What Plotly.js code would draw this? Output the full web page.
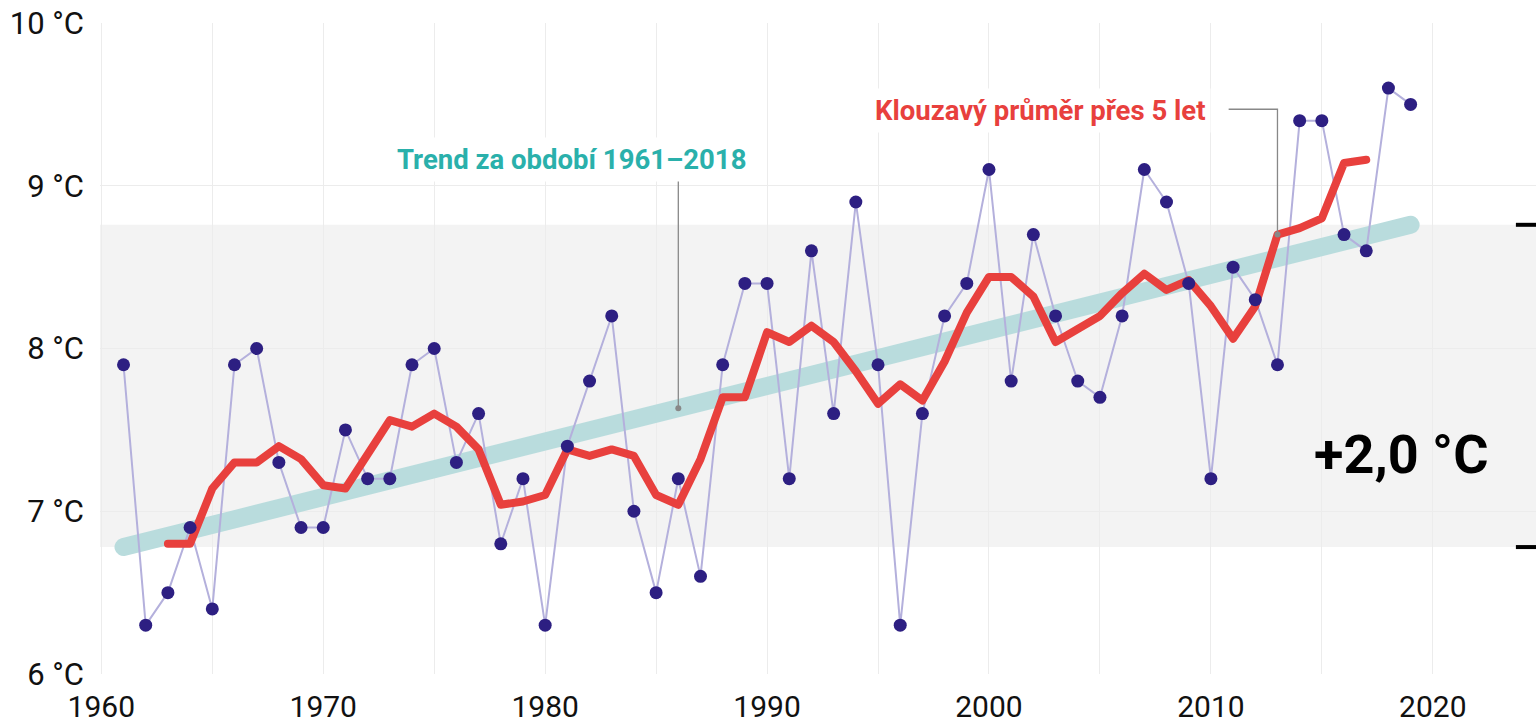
<!DOCTYPE html>
<html>
<head>
<meta charset="utf-8">
<script src="https://cdn.plot.ly/plotly-3.0.1.min.js"></script>
<style>
html,body{margin:0;padding:0;background:#fff;}
#chart{width:1536px;height:727px;}
</style>
</head>
<body>
<div id="chart"></div>
<script>
// Annual mean temperature
const years = [1961,1962,1963,1964,1965,1966,1967,1968,1969,1970,1971,1972,1973,1974,1975,1976,1977,1978,1979,1980,1981,1982,1983,1984,1985,1986,1987,1988,1989,1990,1991,1992,1993,1994,1995,1996,1997,1998,1999,2000,2001,2002,2003,2004,2005,2006,2007,2008,2009,2010,2011,2012,2013,2014,2015,2016,2017,2018,2019];
const annualTemp = [7.9,6.3,6.5,6.9,6.4,7.9,8.0,7.3,6.9,6.9,7.5,7.2,7.2,7.9,8.0,7.3,7.6,6.8,7.2,6.3,7.4,7.8,8.2,7.0,6.5,7.2,6.6,7.9,8.4,8.4,7.2,8.6,7.6,8.9,7.9,6.3,7.6,8.2,8.4,9.1,7.8,8.7,8.2,7.8,7.7,8.2,9.1,8.9,8.4,7.2,8.5,8.3,7.9,9.4,9.4,8.7,8.6,9.6,9.5];

// 5-year moving average
const maYears = [1963,1964,1965,1966,1967,1968,1969,1970,1971,1972,1973,1974,1975,1976,1977,1978,1979,1980,1981,1982,1983,1984,1985,1986,1987,1988,1989,1990,1991,1992,1993,1994,1995,1996,1997,1998,1999,2000,2001,2002,2003,2004,2005,2006,2007,2008,2009,2010,2011,2012,2013,2014,2015,2016,2017];
const maTemp = [6.8,6.8,7.14,7.3,7.3,7.4,7.32,7.16,7.14,7.34,7.56,7.52,7.6,7.52,7.38,7.04,7.06,7.1,7.38,7.34,7.38,7.34,7.1,7.04,7.32,7.7,7.7,8.1,8.04,8.14,8.04,7.86,7.66,7.78,7.68,7.92,8.22,8.44,8.44,8.32,8.04,8.12,8.2,8.34,8.46,8.36,8.42,8.26,8.06,8.26,8.7,8.74,8.8,9.14,9.16];

// Linear trend 1961–2018
const trendYears = [1961, 2019];
const trendTemp = [6.78, 8.76];

// Axis ticks
const xTickVals = [1960,1970,1980,1990,2000,2010,2020];
const xTickText = ['1960','1970','1980','1990','2000','2010','2020'];
const yTickVals = [6,7,8,9,10];
const yTickText = ['6 °C','7 °C','8 °C','9 °C','10 °C'];

// Labels
const trendLabel = 'Trend za období 1961–2018';
const maLabel = 'Klouzavý průměr přes 5 let';
const changeLabel = '+2,0 °C';
const trendLeaderYear = 1986;
const maLeaderYear = 2013;

const xRange = [1959.94, 2024.65];
const yRange = [6, 10];

const FONT = 'Roboto, "Noto Sans", Arial, sans-serif';
const trendAt = yr => trendTemp[0] + (trendTemp[1]-trendTemp[0])*(yr-trendYears[0])/(trendYears[1]-trendYears[0]);
const maAt = yr => maTemp[maYears.indexOf(yr)];

const traces = [
  {x: trendYears, y: trendTemp, mode: 'lines', line: {color: 'rgb(185,220,221)', width: 18}, hoverinfo: 'skip', name: 'trend'},
  {x: years, y: annualTemp, mode: 'lines', line: {color: 'rgb(180,176,220)', width: 2}, hoverinfo: 'skip', name: 'annual-line'},
  {x: maYears, y: maTemp, mode: 'lines', line: {color: 'rgb(232,64,61)', width: 8}, name: 'ma'},
  {x: years, y: annualTemp, mode: 'markers', marker: {color: 'rgb(45,31,130)', size: 13}, name: 'annual'}
];

const dot = (x, y) => ({type: 'circle', xref: 'x', yref: 'y', xsizemode: 'pixel', ysizemode: 'pixel', xanchor: x, yanchor: y, x0: -3, x1: 3, y0: -3, y1: 3, fillcolor: '#888', line: {width: 0}, layer: 'above'});

const shapes = [
  {type: 'rect', xref: 'x', yref: 'y', x0: xRange[0], x1: xRange[1], y0: trendTemp[0], y1: trendTemp[1], fillcolor: '#f3f3f3', line: {width: 0}, layer: 'below'},
  {type: 'line', xref: 'paper', yref: 'y', x0: 0.986, x1: 1.0, y0: trendTemp[1], y1: trendTemp[1], line: {color: '#000', width: 4}, layer: 'above'},
  {type: 'line', xref: 'paper', yref: 'y', x0: 0.986, x1: 1.0, y0: trendTemp[0], y1: trendTemp[0], line: {color: '#000', width: 4}, layer: 'above'},
  // trend leader
  {type: 'line', xref: 'x', yref: 'y', x0: trendLeaderYear, x1: trendLeaderYear, y0: 9.05, y1: trendAt(trendLeaderYear), line: {color: '#888', width: 1.3}, layer: 'above'},
  dot(trendLeaderYear, trendAt(trendLeaderYear)),
  // moving average leader
  {type: 'path', xref: 'x', yref: 'y', path: `M 2010.8,9.47 L ${maLeaderYear},9.47 L ${maLeaderYear},${maAt(maLeaderYear)}`, line: {color: '#888', width: 1.3}, layer: 'above'},
  dot(maLeaderYear, maAt(maLeaderYear))
];

const annotations = [
  {x: 1981.2, y: 9.16, xref: 'x', yref: 'y', text: trendLabel, showarrow: false, xanchor: 'center', yanchor: 'middle',
   font: {family: FONT, size: 27.5, color: 'rgb(42,176,171)', weight: 700}, bgcolor: '#fff', borderpad: 5},
  {x: 2002.3, y: 9.465, xref: 'x', yref: 'y', text: maLabel, showarrow: false, xanchor: 'center', yanchor: 'middle',
   font: {family: FONT, size: 27.5, color: 'rgb(232,64,61)', weight: 700}, bgcolor: '#fff', borderpad: 5},
  {x: 2018.57, y: 7.35, xref: 'x', yref: 'y', text: changeLabel, showarrow: false, xanchor: 'center', yanchor: 'middle',
   font: {family: FONT, size: 54, color: '#000', weight: 700}}
];

const layout = {
  width: 1536, height: 727,
  margin: {l: 100, r: 0, t: 23, b: 53, pad: 0},
  paper_bgcolor: '#fff', plot_bgcolor: '#fff',
  showlegend: false,
  font: {family: FONT, color: '#111'},
  xaxis: {
    range: xRange, tickvals: xTickVals, ticktext: xTickText,
    showgrid: true, gridcolor: '#ececec', gridwidth: 1,
    minor: {dtick: 5, tick0: 1960, showgrid: true, gridcolor: '#ececec', gridwidth: 1},
    zeroline: false, showline: false, ticks: '',
    tickfont: {family: FONT, size: 30, color: '#111'}, ticklabelstandoff: 12
  },
  yaxis: {
    range: yRange, tickvals: yTickVals, ticktext: yTickText,
    showgrid: true, gridcolor: '#ececec', gridwidth: 1,
    zeroline: false, showline: false, ticks: '',
    tickfont: {family: FONT, size: 31, color: '#111'}, ticklabelstandoff: 15
  },
  shapes: shapes,
  annotations: annotations
};

Plotly.newPlot('chart', traces, layout, {staticPlot: true, displayModeBar: false}).then(() => {
  document.querySelectorAll('.scatterlayer .trace path.js-line').forEach(p => {
    p.style.strokeLinecap = 'round';
    p.style.strokeLinejoin = 'round';
  });
});
</script>
</body>
</html>
